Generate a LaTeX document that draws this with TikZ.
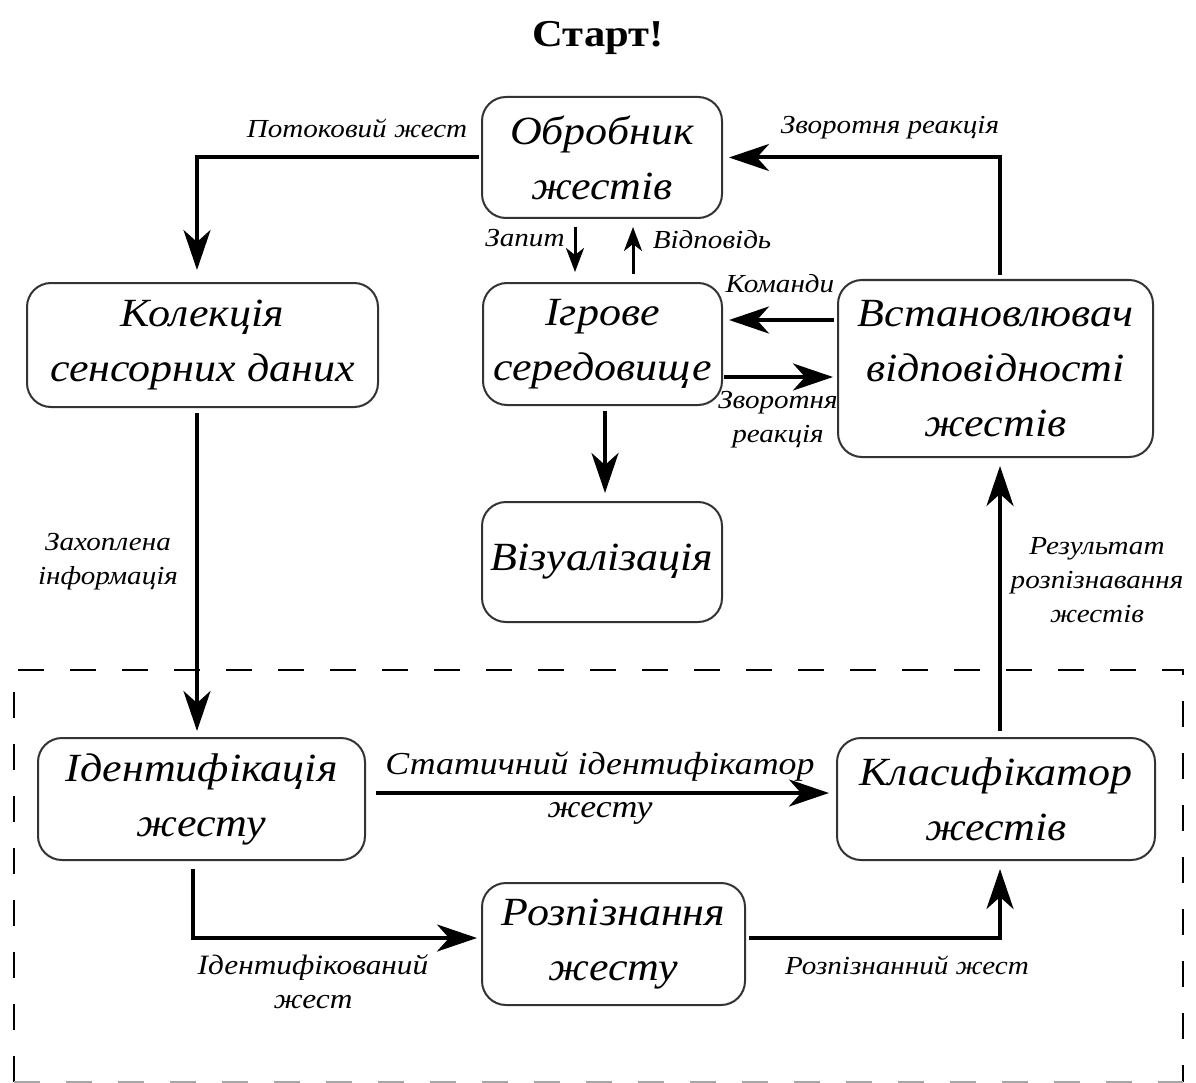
\documentclass[tikz,border=0pt]{standalone}
\usepackage{fontspec}
\setmainfont{Liberation Serif}
\newfontfamily\widefont[FakeStretch=1.1]{Liberation Serif}
\newfontfamily\lblfont[FakeStretch=1.12]{Liberation Serif}
\usetikzlibrary{arrows.meta}
\begin{document}
\begin{tikzpicture}[x=1pt,y=-1pt,
  box/.style={draw=black!80, line width=2pt, rounded corners=24pt, align=center,
    font=\widefont\fontsize{40}{55}\selectfont\itshape, inner sep=0pt},
  conn/.style={line width=4pt, -{Stealth[length=40pt,width=27pt,inset=12pt]}},
  sconn/.style={line width=3pt, -{Stealth[length=24pt,width=18pt,inset=7pt]}},
  lbl/.style={font=\lblfont\fontsize{26}{34}\selectfont\itshape, align=center, inner sep=0pt},
  biglbl/.style={font=\lblfont\fontsize{32}{43}\selectfont\itshape, align=center, inner sep=0pt},
  frame/.style={line width=2pt, dash pattern=on 26pt off 26pt}
]
\useasboundingbox (0,0) rectangle (1196,1083);
\fill[white] (0,0) rectangle (1196,1083);

\node[font=\lblfont\fontsize{38}{44}\selectfont\bfseries] (title) at (598,38) {Старт!};

\node[box, minimum width=240pt, minimum height=121pt] (obr) at (602,157.5) {Обробник\\жестів};
\node[box, minimum width=351pt, minimum height=124pt] (kol) at (202.5,345) {Колекція\\сенсорних даних};
\node[box, minimum width=239pt, minimum height=122pt] (igr) at (602.5,344) {Ігрове\\середовище};
\node[box, minimum width=315pt, minimum height=177pt] (vst) at (995.5,368.5) {Встановлювач\\відповідності\\жестів};
\node[box, minimum width=240pt, minimum height=120pt] (viz) at (602,562) {Візуалізація};
\node[box, minimum width=327pt, minimum height=122pt] (ident) at (201.5,799) {Ідентифікація\\жесту};
\node[box, minimum width=318pt, minimum height=122pt] (klas) at (996,799) {Класифікатор\\жестів};
\node[box, minimum width=263pt, minimum height=122pt] (rozp) at (613.5,944) {Розпізнання\\жесту};

\draw[frame] (14,1082) -- (14,670) -- (1183,670) -- (1183,1082);
\draw[frame, black!35] (14,1082) -- (1183,1082);

% connectors
\draw[conn, shorten <=2pt, shorten >=12pt] (obr.west) -| ([xshift=-5.5pt]kol.north);
\draw[conn, shorten <=4pt, shorten >=6pt] ([xshift=4.5pt]vst.north) |- (obr.east);
\draw[sconn, shorten <=8pt, shorten >=10pt] ([xshift=-27pt]obr.south) -- ([xshift=-27.5pt]igr.north);
\draw[sconn, shorten <=8pt, shorten >=8pt] ([xshift=30.5pt]igr.north) -- ([xshift=31pt]obr.south);
\draw[conn, shorten <=3pt, shorten >=6pt] ([yshift=48.5pt]vst.west) -- ([yshift=24pt]igr.east);
\draw[conn, shorten <=1pt, shorten >=4pt] ([yshift=-33pt]igr.east) -- ([yshift=-8.5pt]vst.west);
\draw[conn, shorten <=5pt, shorten >=8pt] ([xshift=2.5pt]igr.south) -- ([xshift=3pt]viz.north);
\draw[conn, shorten <=5pt, shorten >=6pt] ([xshift=-5.5pt]kol.south) -- ([xshift=-4.5pt]ident.north);
\draw[conn, shorten <=10pt, shorten >=7pt] ([yshift=6pt]ident.east) -- ([yshift=6pt]klas.west);
\draw[conn, shorten <=8pt, shorten >=4pt] ([xshift=-8.5pt]ident.south) |- ([yshift=6pt]rozp.west);
\draw[conn, shorten <=3pt, shorten >=8pt] ([yshift=6pt]rozp.east) -| ([xshift=4pt]klas.south);
\draw[conn, shorten <=6pt, shorten >=8pt] ([xshift=4pt]klas.north) -- ([xshift=4.5pt]vst.south);

% labels
\node[lbl] (l1) at (357,128) {Потоковий жест};
\node[lbl] (l2) at (890,128) {Зворотня реакція};
\node[lbl] (l3) at (525,238) {Запит};
\node[lbl] (l4) at (712,240) {Відповідь};
\node[lbl] (l5) at (780,284) {Команди};
\node[lbl] (l6) at (778,420) {Зворотня\\реакція};
\node[lbl] (l7) at (108,562) {Захоплена\\інформація};
\node[biglbl] (l8) at (600,788) {Статичний ідентифікатор\\жесту};
\node[lbl, font=\lblfont\fontsize{28}{34}\selectfont\itshape] (l9) at (313,982) {Ідентифікований\\жест};
\node[lbl] (l10) at (907,965) {Розпізнанний жест};
\node[lbl] (l11) at (1097,580) {Результат\\розпізнавання\\жестів};
\end{tikzpicture}
\end{document}
